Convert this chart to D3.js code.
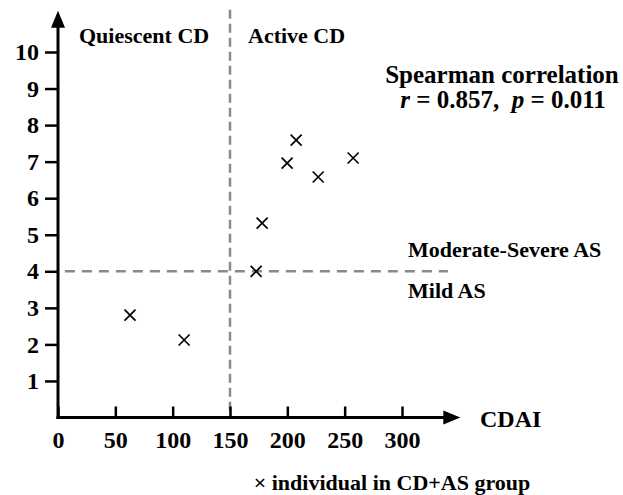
<!DOCTYPE html>
<html>
<head>
<meta charset="utf-8">
<script src="https://cdn.jsdelivr.net/npm/d3@7"></script>
<style>
  html, body { margin: 0; padding: 0; background: #fff; }
  svg { display: block; }
  text { font-family: "Liberation Serif", "Times New Roman", serif; font-weight: bold; fill: #000; }
</style>
</head>
<body>
<svg id="chart" width="623" height="495"></svg>
<script>
// ---- data ----
const cdai = [62.8, 110, 172.8, 178, 199.8, 207.7, 226.9, 257.4];
const asScore = [2.8, 2.12, 4.0, 5.32, 6.96, 7.59, 6.58, 7.1];
const xTicks = [0, 50, 100, 150, 200, 250, 300];
const yTicks = [1, 2, 3, 4, 5, 6, 7, 8, 9, 10];
const cdaiCut = 150;
const asCut = 4;
const xLabel = "CDAI";
const regionLabels = ["Quiescent CD", "Active CD"];
const severityLabels = ["Moderate-Severe AS", "Mild AS"];
const statTitle = "Spearman correlation";
const statR = "0.857";
const statP = "0.011";
const legendText = "× individual in CD+AS group";

// ---- layout ----
const svg = d3.select("#chart");
const x = d3.scaleLinear().domain([0, 300]).range([58, 402]);
const y = d3.scaleLinear().domain([0, 10]).range([417.5, 52]);
const xEnd = 350, yEnd = 11.1;

// dashed reference lines
svg.append("line")
  .attr("x1", x(cdaiCut)).attr("x2", x(cdaiCut))
  .attr("y1", y(yEnd) - 2).attr("y2", y(0))
  .attr("stroke", "#8a8a8a").attr("stroke-width", 2.5)
  .attr("stroke-dasharray", "9,5");
svg.append("line")
  .attr("x1", x(6)).attr("x2", x(340))
  .attr("y1", y(asCut)).attr("y2", y(asCut))
  .attr("stroke", "#8a8a8a").attr("stroke-width", 2.5)
  .attr("stroke-dasharray", "10,7");

// axes
const yAxis = d3.axisLeft(y).tickValues(yTicks).tickSize(13).tickPadding(6).tickFormat(d3.format("d"));
const gy = svg.append("g").attr("transform", `translate(${x(0)},0)`).call(yAxis);
gy.select(".domain").remove();
gy.selectAll(".tick line").attr("stroke", "#000").attr("stroke-width", 2.5);
gy.selectAll(".tick text").attr("font-size", 24).attr("font-family", "Liberation Serif").attr("font-weight", "bold").attr("fill", "#000");

const xAxis = d3.axisBottom(x).tickValues(xTicks).tickSize(-11).tickPadding(13).tickFormat(d3.format("d"));
const gx = svg.append("g").attr("transform", `translate(0,${y(0)})`).call(xAxis);
gx.select(".domain").remove();
gx.selectAll(".tick line").attr("stroke", "#000").attr("stroke-width", 2.5);
gx.selectAll(".tick text").attr("font-size", 24).attr("font-family", "Liberation Serif").attr("font-weight", "bold").attr("fill", "#000");

// axis lines with arrows
svg.append("line")
  .attr("x1", x(0)).attr("x2", x(0))
  .attr("y1", y(0) + 1.5).attr("y2", y(yEnd) + 14)
  .attr("stroke", "#000").attr("stroke-width", 3);
svg.append("line")
  .attr("x1", x(0) - 1.5).attr("x2", x(xEnd) - 14)
  .attr("y1", y(0)).attr("y2", y(0))
  .attr("stroke", "#000").attr("stroke-width", 3);
svg.append("path")
  .attr("d", `M${x(0)},${y(yEnd) - 1} L${x(0) - 7},${y(yEnd) + 16} L${x(0) + 7},${y(yEnd) + 16} Z`)
  .attr("fill", "#000");
svg.append("path")
  .attr("d", `M${x(xEnd) + 1},${y(0)} L${x(xEnd) - 16},${y(0) - 7} L${x(xEnd) - 16},${y(0) + 7} Z`)
  .attr("fill", "#000");

// points as crosses
const pts = cdai.map((c, i) => ({ c, s: asScore[i] }));
const r = 5.5;
const g = svg.append("g");
g.selectAll("path.pt").data(pts).enter().append("path")
  .attr("class", "pt")
  .attr("d", d => {
    const cx = x(d.c), cy = y(d.s);
    return `M${cx - r},${cy - r}L${cx + r},${cy + r}M${cx - r},${cy + r}L${cx + r},${cy - r}`;
  })
  .attr("stroke", "#000").attr("stroke-width", 1.7).attr("fill", "none");

// texts
svg.append("text").attr("x", 79).attr("y", 43).attr("font-size", 22).text(regionLabels[0]);
svg.append("text").attr("x", 248).attr("y", 43).attr("font-size", 22).text(regionLabels[1]);

svg.append("text").attr("x", 502).attr("y", 83).attr("font-size", 25).attr("text-anchor", "middle").text(statTitle);
const st = svg.append("text").attr("x", 503).attr("y", 108).attr("font-size", 25).attr("text-anchor", "middle");
st.append("tspan").attr("font-style", "italic").text("r");
st.append("tspan").text(" = " + statR + ",\u00a0\u00a0");
st.append("tspan").attr("font-style", "italic").text("p");
st.append("tspan").text(" = " + statP);

svg.append("text").attr("x", 408).attr("y", 257).attr("font-size", 22).text(severityLabels[0]);
svg.append("text").attr("x", 408).attr("y", 298).attr("font-size", 22).text(severityLabels[1]);

svg.append("text").attr("x", 480).attr("y", 427).attr("font-size", 24).text(xLabel);
svg.append("text").attr("x", 392).attr("y", 490).attr("font-size", 22).attr("text-anchor", "middle").text(legendText);
</script>
</body>
</html>
